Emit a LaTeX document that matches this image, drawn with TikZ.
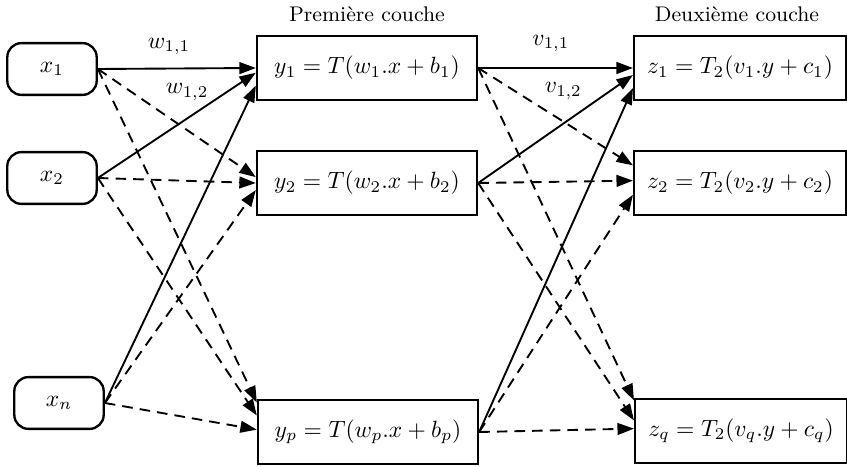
\documentclass[tikz,border=0pt]{standalone}
\usetikzlibrary{arrows.meta}
\tikzset{
  inp/.style  = {draw, rounded corners=6pt, line width=1pt,
                 minimum width=38pt, minimum height=22pt, inner sep=0pt},
  lay/.style  = {draw, line width=1pt,
                 minimum width=93.5pt, minimum height=27pt, inner sep=0pt},
  lay2/.style = {lay, minimum width=90pt},
  ttl/.style  = {font=\small},
  sol/.style  = {-{Triangle[length=7pt,width=5pt]}, line width=0.8pt},
  dsh/.style  = {sol, dash pattern=on 4.5pt off 3pt}
}
\begin{document}
\begin{tikzpicture}[x=0.425pt, y=-0.425pt]
  \useasboundingbox (0,0) rectangle (847,467);
  %% Titles
  \node[ttl] (t1) at (367,14) {Première couche};
  \node[ttl] (t2) at (737,14) {Deuxième couche};

  %% Inputs
  \node[inp] (x1) at (52,69)  {$x_1$};
  \node[inp] (x2) at (52,178) {$x_2$};
  \node[inp] (xn) at (59,403) {$x_n$};

  %% First layer
  \node[lay] (y1) at (367,68)  {$y_1 = T(w_1.x + b_1)$};
  \node[lay] (y2) at (367,183) {$y_2 = T(w_2.x + b_2)$};
  \node[lay] (yp) at (368,432) {$y_p = T(w_p.x + b_p)$};

  %% Second layer
  \node[lay2] (z1) at (740,68)  {$z_1 = T_2(v_1.y + c_1)$};
  \node[lay2] (z2) at (740,183) {$z_2 = T_2(v_2.y + c_2)$};
  \node[lay2] (zq) at (741,431) {$z_q = T_2(v_q.y + c_q)$};

  %% Inputs -> first layer
  \draw[sol] (x1.east) -- (y1.west) node[pos=0.45, above=2pt] {$w_{1,1}$};
  \draw[sol] (x2.east) -- ([yshift=-2pt]y1.west) node[pos=0.565, above=4pt] {$w_{1,2}$};
  \draw[sol] (xn.east) -- ([yshift=-7.5pt]y1.west);
  \draw[dsh] (x1.east) -- ([yshift=2.5pt]y2.west);
  \draw[dsh] (x2.east) -- (y2.west);
  \draw[dsh] (xn.east) -- ([yshift=-3pt]y2.west);
  \draw[dsh] (x1.east) -- ([yshift=12.5pt]yp.west);
  \draw[dsh] (x2.east) -- ([yshift=7pt]yp.west);
  \draw[dsh] (xn.east) -- ([yshift=1pt]yp.west);

  %% First layer -> second layer
  \draw[sol] (y1.east) -- (z1.west) node[pos=0.47, above=3pt] {$v_{1,1}$};
  \draw[sol] (y2.east) -- ([yshift=-3pt]z1.west) node[pos=0.55, above=6.5pt] {$v_{1,2}$};
  \draw[sol] (yp.east) -- ([yshift=-8.5pt]z1.west);
  \draw[dsh] (y1.east) -- ([yshift=7.5pt]z2.west);
  \draw[dsh] (y2.east) -- ([yshift=1pt]z2.west);
  \draw[dsh] (yp.east) -- ([yshift=-5pt]z2.west);
  \draw[dsh] (y1.east) -- ([yshift=13pt]zq.west);
  \draw[dsh] (y2.east) -- ([yshift=4.5pt]zq.west);
  \draw[dsh] (yp.east) -- ([yshift=1pt]zq.west);
\end{tikzpicture}
\end{document}
